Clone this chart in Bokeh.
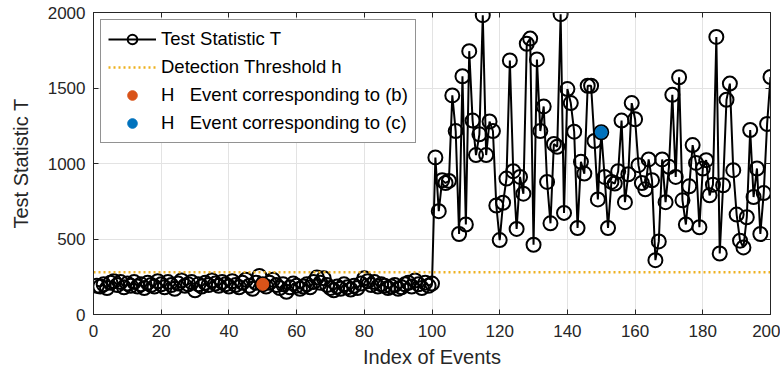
from bokeh.plotting import figure
from bokeh.models import Range1d, LinearAxis, FixedTicker, Legend, CustomJSTickFormatter
from bokeh.embed import file_html
from bokeh.resources import INLINE

# ---- data ----
low_values = [190, 185, 200, 175, 210, 220, 195, 215, 180, 205,
              190, 215, 185, 200, 175, 210, 195, 185, 220, 200,
              180, 215, 195, 170, 205, 225, 190, 200, 215, 160,
              200, 185, 210, 195, 225, 205, 190, 215, 200, 185,
              220, 195, 180, 210, 230, 190, 170, 210, 255, 200,
              185, 210, 230, 195, 175, 200, 150, 180, 205, 190,
              170, 185, 200, 180, 215, 245, 210, 240, 195, 175,
              160, 185, 170, 200, 180, 165, 190, 175, 205, 240,
              220, 195, 215, 185, 200, 190, 175, 185, 195, 170,
              180, 200, 210, 185, 225, 200, 175, 210, 190, 205]
high_values = [1040, 684, 889, 871, 885, 1451, 1215, 533, 1578, 596,
               1744, 1284, 1056, 1193, 1982, 1056, 1278, 1215, 722, 493,
               740, 900, 1682, 949, 567, 911, 800, 1793, 1827, 462,
               1689, 1215, 1378, 878, 604, 1129, 1111, 1989, 673, 1493,
               1400, 1211, 573, 1011, 933, 1515, 1515, 1149, 762, 1207,
               911, 573, 878, 867, 949, 1284, 744, 929, 1400, 1293,
               989, 871, 829, 1027, 889, 360, 484, 1027, 744, 978,
               1455, 911, 1571, 756, 596, 849, 1122, 1004, 578, 967,
               1022, 789, 860, 1838, 404, 856, 1422, 1529, 956, 662,
               489, 444, 644, 1222, 778, 967, 533, 804, 1262, 1573]
test_statistic = low_values + high_values
event_index = list(range(1, len(test_statistic) + 1))

threshold_x = [0, 200]
threshold_h = [280, 280]

event_b_index = [50]
event_c_index = [150]

x_ticks = [0, 20, 40, 60, 80, 100, 120, 140, 160, 180, 200]
y_ticks = [0, 500, 1000, 1500, 2000]

# ---- style ----
FONT = "Liberation Sans"
AX = "#262626"
GRID = "#e3e3e3"
ORANGE = "#D95319"
BLUE = "#0072BD"
YELLOW = "#EDB120"

p = figure(width=780, height=372, output_backend="svg", toolbar_location=None,
           x_range=Range1d(0, 200), y_range=Range1d(0, 2000),
           min_border_left=93, min_border_right=10, min_border_top=12,
           min_border_bottom=58)
p.background_fill_color = "white"
p.border_fill_color = "white"
p.outline_line_color = AX
p.outline_line_width = 1

for ax in (p.xaxis[0], p.yaxis[0]):
    ax.axis_line_color = AX
    ax.major_tick_line_color = AX
    ax.major_tick_in = 5
    ax.major_tick_out = 0
    ax.minor_tick_line_color = None
    ax.major_label_text_font = FONT
    ax.major_label_text_font_size = "17px"
    ax.major_label_text_color = AX
    ax.axis_label_text_font = FONT
    ax.axis_label_text_font_size = "20px"
    ax.axis_label_text_font_style = "normal"
    ax.axis_label_text_color = AX

p.xaxis[0].ticker = FixedTicker(ticks=x_ticks)
p.yaxis[0].ticker = FixedTicker(ticks=y_ticks)
p.xaxis[0].axis_label = "Index of Events"
p.yaxis[0].axis_label = "Test Statistic T"
p.xaxis[0].major_label_standoff = 10
p.yaxis[0].major_label_standoff = 8
p.xaxis[0].axis_label_standoff = 6
p.yaxis[0].axis_label_standoff = 13

p.xgrid.ticker = FixedTicker(ticks=x_ticks)
p.ygrid.ticker = FixedTicker(ticks=y_ticks)
p.xgrid.grid_line_color = GRID
p.ygrid.grid_line_color = GRID

# top/right mirrored ticks (box on), no labels
blank = CustomJSTickFormatter(code="return '';")
top = LinearAxis(ticker=FixedTicker(ticks=x_ticks), formatter=blank,
                 major_tick_in=5, major_tick_out=0, minor_tick_line_color=None,
                 axis_line_color=AX, major_tick_line_color=AX, major_label_standoff=0)
blank2 = CustomJSTickFormatter(code="return '';")
right = LinearAxis(ticker=FixedTicker(ticks=y_ticks), formatter=blank2,
                   major_tick_in=5, major_tick_out=0, minor_tick_line_color=None,
                   axis_line_color=AX, major_tick_line_color=AX, major_label_standoff=0)
p.add_layout(top, "above")
p.add_layout(right, "right")

# ---- glyphs ----
l1 = p.line(event_index, test_statistic, line_color="black", line_width=2)
s1 = p.scatter(event_index, test_statistic, marker="circle", size=14,
               line_color="black", line_width=2, fill_alpha=0)
l2 = p.line(threshold_x, threshold_h, line_color=YELLOW, line_width=2.5,
            line_dash="2 3")
b = p.scatter(event_b_index, [test_statistic[i - 1] for i in event_b_index],
              marker="circle", size=12, fill_color=ORANGE, line_color=ORANGE)
c = p.scatter(event_c_index, [test_statistic[i - 1] for i in event_c_index],
              marker="circle", size=12, fill_color=BLUE, line_color=BLUE)

legend = Legend(items=[("Test Statistic T", [l1, s1]),
                       ("Detection Threshold h", [l2]),
                       ("H   Event corresponding to (b)", [b]),
                       ("H   Event corresponding to (c)", [c])],
                location="top_left")
legend.label_text_font = FONT
legend.label_text_font_size = "18.5px"
legend.label_text_color = "black"
legend.border_line_color = AX
legend.border_line_width = 1
legend.background_fill_alpha = 1
legend.glyph_width = 48
legend.glyph_height = 24
legend.label_height = 24
legend.spacing = 4
legend.padding = 7
legend.margin = 7
legend.label_standoff = 5
p.add_layout(legend)

open("out.html", "w").write(file_html(p, INLINE))
